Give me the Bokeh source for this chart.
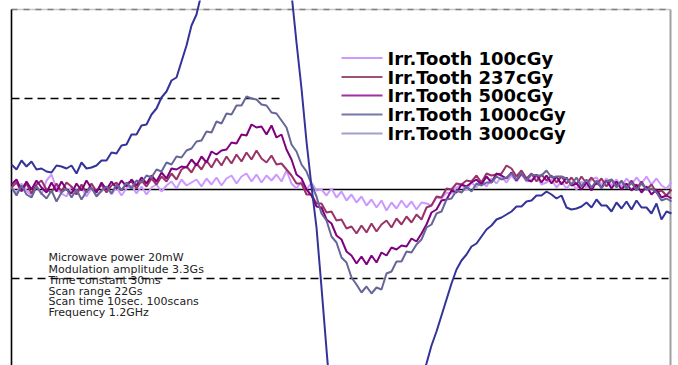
import numpy as np
from bokeh.plotting import figure
from bokeh.models import Range1d, ColumnDataSource
from bokeh.core.properties import value
from bokeh.embed import file_html
from bokeh.resources import INLINE

# ---- data (signal in a.u., sampled every 5 field units) ----
field_step = 5
s100 = [3, -4, 6, -1, -6, 4, -5, 9, 15, 1, -4, -7, 3, -5, 2, -7, 1, -6, -2, 3,
        -5, 2, -6, 1, 4, -4, 3, -5, 2, 5, -2, 4, 8, 1, 10, 4, 7, 10, 3, 11,
        5, 12, 4, 11, 14, 6, 13, 16, 8, 15, 7, 14, 9, 15, 8, 19, 6, 1, 8, 0,
        7, -1, 0, -6, 1, -8, -2, -11, -5, -13, -7, -16, -10, -18, -11, -21, -13, -19, -11, -18,
        -12, -20, -13, -14, -16, -8, -9, -3, -4, 2, 5, -1, 7, 2, 9, 3, 11, 6, 13, 7,
        14, 8, 15, 8, 10, 13, 5, 7, 10, 2, 8, 1, 7, 0, 8, 2, 10, 12, 5, 11,
        4, 10, 3, 11, 5, 12, 6, 13, 5, 11, 4, 1, 7]
s237 = [2, 7, -2, 6, -4, 5, 9, 0, -3, 6, -2, 7, 3, -5, 5, -3, 6, -2, 5, -3,
        4, 7, -1, 6, 8, 1, 9, 3, 11, 5, 13, 8, 16, 10, 20, 23, 17, 26, 20, 29,
        22, 31, 24, 33, 26, 35, 28, 37, 30, 39, 31, 27, 34, 25, 26, 20, 14, 6, 6, -5,
        -5, -14, -14, -23, -22, -31, -30, -39, -37, -44, -36, -43, -34, -42, -35, -31, -38, -29, -35, -27,
        -33, -25, -30, -18, -16, -7, -8, 1, 0, 6, 5, 9, 8, 14, 7, 16, 14, 15, 16, 24,
        21, 13, 19, 11, 16, 8, 15, 9, 14, 7, 13, 6, 12, 5, 13, 6, 12, 5, 11, 3,
        10, 4, 8, 2, 9, 1, 8, 0, 5, -3, -1, -6, 0]
s500 = [5, 10, -1, 8, 0, 9, 2, -3, 7, -2, 8, 0, -4, 6, -1, 9, 1, -3, 7, 0,
        8, 1, 9, 3, 10, 4, 12, 6, 14, 8, 17, 11, 21, 20, 23, 22, 30, 24, 33, 27,
        38, 35, 39, 40, 47, 46, 55, 54, 65, 62, 63, 55, 64, 52, 55, 40, 30, 15, 11, 0,
        -6, -17, -18, -30, -34, -46, -50, -62, -66, -74, -67, -75, -66, -73, -63, -66, -58, -60, -56, -57,
        -49, -52, -44, -35, -23, -20, -11, -10, -1, -3, 5, 3, 7, 10, 5, 13, 7, 16, 14, 11,
        17, 9, 16, 10, 8, 15, 7, 14, 6, 13, 5, 12, 4, 6, 0, 7, -1, 8, 2, 9,
        1, 8, 0, 6, -1, 5, -3, 3, -5, 0, -8, -6, -9]
s1000 = [2, -6, 4, -5, -8, 3, -4, -9, -1, -12, -3, 1, -8, 0, -10, -2, 2, -7, -1, 3,
         -4, 5, -1, 7, 1, 9, 7, 14, 12, 20, 18, 27, 25, 33, 32, 39, 41, 48, 49, 58,
         57, 68, 66, 76, 75, 84, 84, 93, 91, 90, 85, 84, 77, 76, 69, 62, 45, 38, 25, 18,
         5, -7, -24, -31, -47, -53, -68, -73, -88, -95, -103, -97, -104, -98, -100, -84, -82, -72, -72, -62,
         -63, -55, -50, -38, -35, -24, -22, -10, -9, -1, -3, 3, -2, 6, 4, 7, 7, 13, 10, 12,
         16, 10, 17, 9, 15, 14, 14, 19, 12, 13, 13, 11, 5, 12, 3, 10, 2, 9, 1, 8,
         10, 2, 9, 1, 7, -1, 6, 0, 1, -3, -11, -9, -12]
s3000 = [25, 20, 29, 23, 28, 20, 21, 18, 17, 24, 23, 21, 24, 16, 27, 21, 22, 24, 29, 29,
         37, 36, 44, 45, 55, 55, 64, 65, 75, 81, 92, 98, 109, 112, 128, 144, 164, 175, 196, 218,
         242, 266, 290, 315, 338, 356, 368, 372, 368, 352, 330, 304, 280, 258, 240, 222, 196, 147, 101, 48,
         3, -38, -98, -160, -220, -275, -320, -355, -380, -395, -400, -396, -385, -370, -350, -330, -308, -286, -265, -245,
         -222, -203, -188, -174, -156, -142, -126, -110, -94, -80, -71, -65, -57, -54, -47, -40, -36, -30, -28, -25,
         -22, -17, -17, -12, -11, -6, -6, -2, -5, -9, -6, -18, -20, -19, -17, -13, -18, -10, -16, -16,
         -22, -13, -19, -12, -20, -11, -18, -18, -24, -14, -30, -22, -24]

series = [s100, s237, s500, s1000, s3000]
labels = ["Irr.Tooth 100cGy", "Irr.Tooth 237cGy", "Irr.Tooth 500cGy",
          "Irr.Tooth 1000cGy", "Irr.Tooth 3000cGy"]
colors = ["#cc99ff", "#993366", "#800080", "#666699", "#333399"]
legend_colors = ["#cc99ff", "#a05077", "#a030a0", "#7777aa", "#a0a0cc"]

conditions = ["Microwave power 20mW", "Modulation amplitude 3.3Gs",
              "Time constant 30ms", "Scan range 22Gs",
              "Scan time 10sec. 100scans", "Frequency 1.2GHz"]

ref_upper = 91      # dashed reference level (upper)
ref_lower = -89     # dashed reference level (lower)
ref_upper_end = 270
field_end = 659

p = figure(width=678, height=365, output_backend="svg", toolbar_location=None,
           x_range=Range1d(-11, 667), y_range=Range1d(-176, 189),
           min_border=0, outline_line_color=None, background_fill_color="white",
           border_fill_color="white")
p.xaxis.visible = False
p.yaxis.visible = False
p.xgrid.visible = False
p.ygrid.visible = False

# frame lines
p.line([0, field_end], [180, 180], line_color="#c8c8c8", line_width=1.5)
p.line([0, field_end], [180, 180], line_color="#808080", line_width=1.5, line_dash="6 6")
p.line([field_end, field_end], [180, -180], line_color="#a0a0a0", line_width=2)
p.line([0, 0], [180, -180], line_color="black", line_width=1.6)
p.line([0, field_end], [0, 0], line_color="black", line_width=1.3)
p.line([0, ref_upper_end], [ref_upper, ref_upper], line_color="black", line_width=1.4, line_dash="8 5")
p.line([0, field_end - 2], [ref_lower, ref_lower], line_color="black", line_width=1.4, line_dash="8 5")

# spectra
for s, c in zip(series, colors):
    xs = list(np.arange(len(s)) * field_step)
    src = ColumnDataSource(dict(x=xs, y=s))
    p.line("x", "y", source=src, line_color=c, line_width=2)

# legend (manual)
leg_y = [131.5, 112.5, 94, 75, 56]
for yy, c in zip(leg_y, legend_colors):
    p.line([330, 371], [yy, yy], line_color=c, line_width=2)
p.text(x=[376] * len(labels), y=leg_y, text=labels,
       text_font=value("DejaVu Sans"), text_font_style="bold",
       text_font_size="18px", text_baseline="middle", text_color="black")

# measurement conditions
cond_y = [-68, -79.5, -90.5, -101.5, -112, -122.5]
p.text(x=[37] * len(conditions), y=cond_y, text=conditions,
       text_font=value("DejaVu Sans"), text_font_size="11px",
       text_baseline="middle", text_color="#222222")

open("out.html", "w").write(file_html(p, INLINE))
